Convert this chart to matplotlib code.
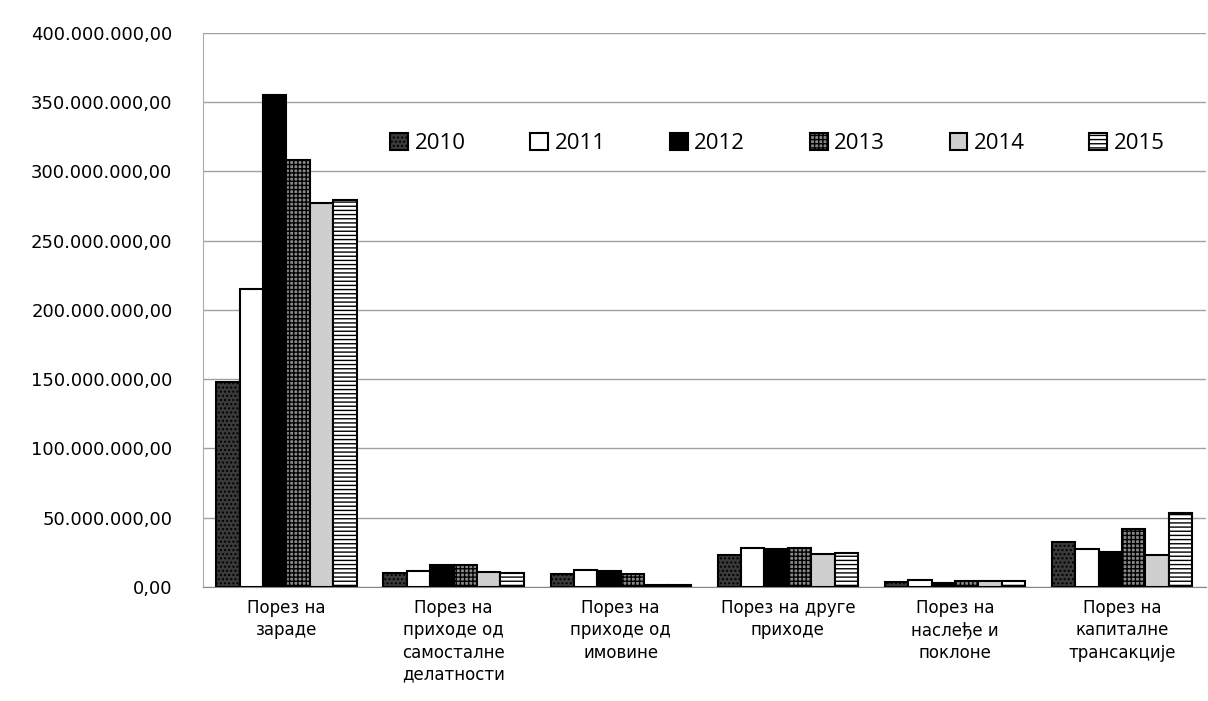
import numpy as np
import matplotlib.pyplot as plt
from matplotlib.ticker import FuncFormatter

categories = ["Порез на\nзараде", "Порез на\nприходе од\nсамосталне\nделатности",
              "Порез на\nприходе од\nимовине", "Порез на друге\nприходе",
              "Порез на\nнаслеђе и\nпоклоне", "Порез на\nкапиталне\nтрансакције"]
years = ["2010", "2011", "2012", "2013", "2014", "2015"]
v2010 = [148e6, 10e6, 9e6, 23e6, 3.6e6, 32e6]
v2011 = [215e6, 11.5e6, 12e6, 28e6, 5e6, 27e6]
v2012 = [355e6, 16e6, 11.5e6, 27e6, 2.5e6, 25e6]
v2013 = [308e6, 16e6, 9e6, 28e6, 4e6, 42e6]
v2014 = [277e6, 11e6, 1.5e6, 24e6, 4e6, 23e6]
v2015 = [279e6, 10e6, 1.5e6, 24.5e6, 4e6, 53e6]
series = [v2010, v2011, v2012, v2013, v2014, v2015]

faces = ["#3a3a3a", "white", "black", "#8a8a8a", "#cfcfcf", "white"]
hatches = ["....", "", "", "++++", "", "----"]

plt.rcParams["hatch.linewidth"] = 1.0
fig = plt.figure(figsize=(12.08, 7.01), dpi=100)
ax = fig.add_axes([0.168, 0.163, 0.83, 0.79])

x = np.arange(len(categories))
w = 0.14
for i, vals in enumerate(series):
    ax.bar(x + (i - 2.5) * w, vals, w, color=faces[i], hatch=hatches[i],
           edgecolor="black", linewidth=1.5, label=years[i], zorder=3)

ax.set_xlim(-0.5, 5.5)
ax.set_ylim(0, 400e6)
ax.set_yticks(np.arange(0, 400e6 + 1, 50e6))
ax.yaxis.set_major_formatter(FuncFormatter(
    lambda v, p: "{:,.2f}".format(v).replace(",", " ").replace(".", ",").replace(" ", ".")))
ax.grid(axis="y", color="#a0a0a0", linewidth=1, zorder=0)
ax.set_xticks(x)
ax.set_xticklabels(categories, fontsize=12, linespacing=1.3)
ax.tick_params(axis="y", labelsize=13, length=0, pad=22)
ax.tick_params(axis="x", length=0, pad=9)
for s in ["top", "right"]:
    ax.spines[s].set_visible(False)
ax.spines["left"].set_color("#aaaaaa")
ax.spines["bottom"].set_color("#888888")

ax.legend(loc="center", bbox_to_anchor=(0.573, 0.80), ncol=6, frameon=False,
          prop={"family": "Open Sans", "size": 16}, handlelength=0.8,
          handleheight=0.8, columnspacing=2.9, handletextpad=0.3)

fig.savefig("out.png")
